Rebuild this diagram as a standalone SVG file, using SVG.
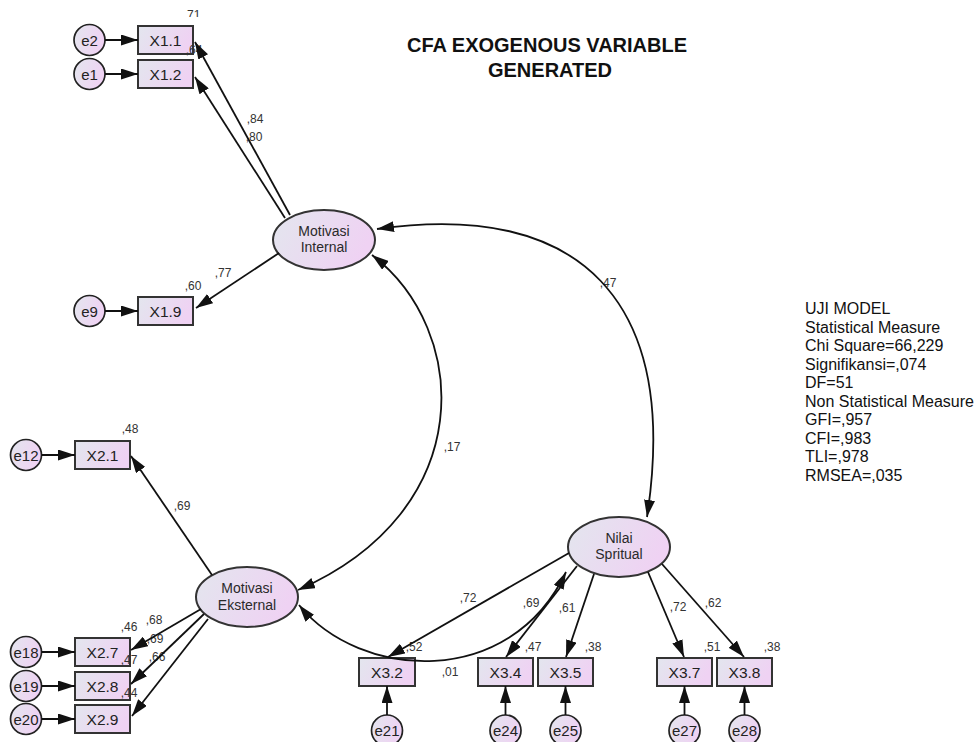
<svg xmlns="http://www.w3.org/2000/svg" width="978" height="742" viewBox="0 0 978 742">
<style>
.n{stroke:#333;stroke-width:2;fill:url(#g)}
.c{stroke:#222;stroke-width:1.7;fill:url(#g)}
.t{font-family:"Liberation Sans",Arial,sans-serif;font-size:15.5px;fill:#222;text-anchor:middle}
.et{font-family:"Liberation Sans",Arial,sans-serif;font-size:15px;fill:#222;text-anchor:middle}
.lt{font-family:"Liberation Sans",Arial,sans-serif;font-size:14px;fill:#2a2a2a;text-anchor:middle}
.l{font-family:"Liberation Sans",Arial,sans-serif;font-size:12px;fill:#333;text-anchor:middle}
.k{stroke:#111;stroke-width:1.8;fill:none;marker-end:url(#ah)}
.d{stroke:#111;stroke-width:1.8;fill:none;marker-end:url(#ah);marker-start:url(#ah)}
.info{font-family:"Liberation Sans",Arial,sans-serif;font-size:16px;fill:#111}
.title{font-family:"Liberation Sans",Arial,sans-serif;font-size:20px;font-weight:bold;fill:#111;text-anchor:middle}
</style>
<defs>
<linearGradient id="g" x1="0" y1="0" x2="1" y2="0.3">
<stop offset="0" stop-color="#e3e6ee"/>
<stop offset="1" stop-color="#efd2f3"/>
</linearGradient>
<marker id="ah" viewBox="0 0 17 11" refX="17" refY="5.5" markerWidth="17" markerHeight="11" markerUnits="userSpaceOnUse" orient="auto-start-reverse">
<path d="M0,0 L17,5.5 L0,11 z" fill="#111"/>
</marker>
<clipPath id="topclip"><rect x="0" y="0" width="978" height="17"/></clipPath>
</defs>
<rect width="978" height="742" fill="#fff"/>

<g id="title">
<text class="title" x="547" y="52">CFA EXOGENOUS VARIABLE</text>
<text class="title" x="550" y="77">GENERATED</text>
</g>

<g id="fit-info" class="info">
<text x="805" y="314">UJI MODEL</text>
<text x="805" y="332.5">Statistical Measure</text>
<text x="805" y="351">Chi Square=66,229</text>
<text x="805" y="369.5">Signifikansi=,074</text>
<text x="805" y="388">DF=51</text>
<text x="805" y="406.5">Non Statistical Measure</text>
<text x="805" y="425">GFI=,957</text>
<text x="805" y="443.5">CFI=,983</text>
<text x="805" y="462">TLI=,978</text>
<text x="805" y="480.5">RMSEA=,035</text>
</g>

<!-- nodes -->
<g id="MI"><ellipse class="n" cx="324" cy="240" rx="51" ry="30"/><text class="lt" x="324" y="236">Motivasi</text><text class="lt" x="324" y="252">Internal</text></g>
<g id="ME"><ellipse class="n" cx="247" cy="597" rx="51" ry="30"/><text class="lt" x="247" y="593">Motivasi</text><text class="lt" x="247" y="610">Eksternal</text></g>
<g id="NS"><ellipse class="n" cx="619" cy="547" rx="51" ry="30"/><text class="lt" x="619" y="543">Nilai</text><text class="lt" x="619" y="559">Spritual</text></g>

<g id="X1.1"><rect class="n" x="138" y="26" width="55" height="28"/><text class="t" x="165.5" y="46">X1.1</text></g>
<g id="X1.2"><rect class="n" x="138" y="60" width="55" height="28"/><text class="t" x="165.5" y="80">X1.2</text></g>
<g id="X1.9"><rect class="n" x="138" y="297" width="55" height="28"/><text class="t" x="165.5" y="317">X1.9</text></g>
<g id="X2.1"><rect class="n" x="75" y="441" width="55" height="28"/><text class="t" x="102.5" y="461">X2.1</text></g>
<g id="X2.7"><rect class="n" x="75" y="638" width="55" height="28"/><text class="t" x="102.5" y="658">X2.7</text></g>
<g id="X2.8"><rect class="n" x="75" y="672" width="55" height="28"/><text class="t" x="102.5" y="692">X2.8</text></g>
<g id="X2.9"><rect class="n" x="75" y="705" width="55" height="28"/><text class="t" x="102.5" y="725">X2.9</text></g>
<g id="X3.2"><rect class="n" x="359" y="658" width="56" height="28"/><text class="t" x="387" y="678">X3.2</text></g>
<g id="X3.4"><rect class="n" x="478" y="658" width="55" height="28"/><text class="t" x="505.5" y="678">X3.4</text></g>
<g id="X3.5"><rect class="n" x="538" y="658" width="55" height="28"/><text class="t" x="565.5" y="678">X3.5</text></g>
<g id="X3.7"><rect class="n" x="657" y="658" width="55" height="28"/><text class="t" x="684.5" y="678">X3.7</text></g>
<g id="X3.8"><rect class="n" x="717" y="658" width="55" height="28"/><text class="t" x="744.5" y="678">X3.8</text></g>

<g id="e2"><circle class="c" cx="89.5" cy="40" r="15.5"/><text class="et" x="89.5" y="45.5">e2</text></g>
<g id="e1"><circle class="c" cx="89.5" cy="74" r="15.5"/><text class="et" x="89.5" y="79.5">e1</text></g>
<g id="e9"><circle class="c" cx="89.5" cy="311" r="15.5"/><text class="et" x="89.5" y="316.5">e9</text></g>
<g id="e12"><circle class="c" cx="26" cy="455" r="15.5"/><text class="et" x="26" y="460.5">e12</text></g>
<g id="e18"><circle class="c" cx="26" cy="652" r="15.5"/><text class="et" x="26" y="657.5">e18</text></g>
<g id="e19"><circle class="c" cx="26" cy="686" r="15.5"/><text class="et" x="26" y="691.5">e19</text></g>
<g id="e20"><circle class="c" cx="26" cy="719" r="15.5"/><text class="et" x="26" y="724.5">e20</text></g>
<g id="e21"><circle class="c" cx="387" cy="730.5" r="15.5"/><text class="et" x="387" y="736">e21</text></g>
<g id="e24"><circle class="c" cx="505.5" cy="730.5" r="15.5"/><text class="et" x="505.5" y="736">e24</text></g>
<g id="e25"><circle class="c" cx="565.5" cy="730.5" r="15.5"/><text class="et" x="565.5" y="736">e25</text></g>
<g id="e27"><circle class="c" cx="684.5" cy="730.5" r="15.5"/><text class="et" x="684.5" y="736">e27</text></g>
<g id="e28"><circle class="c" cx="744.5" cy="730.5" r="15.5"/><text class="et" x="744.5" y="736">e28</text></g>

<!-- labels -->
<g id="labels" class="l">
<text x="192" y="19" clip-path="url(#topclip)">,71</text>
<text x="194" y="54">,64</text>
<text x="255" y="123">,84</text>
<text x="254" y="141">,80</text>
<text x="223" y="277">,77</text>
<text x="193" y="290">,60</text>
<text x="130" y="433">,48</text>
<text x="182" y="510">,69</text>
<text x="129" y="631">,46</text>
<text x="154" y="624">,68</text>
<text x="155" y="643">,69</text>
<text x="129" y="664">,47</text>
<text x="157" y="661">,66</text>
<text x="129" y="697">,44</text>
<text x="468" y="602">,72</text>
<text x="414" y="651">,52</text>
<text x="450" y="676">,01</text>
<text x="531" y="607">,69</text>
<text x="533" y="651">,47</text>
<text x="567" y="612">,61</text>
<text x="593" y="651">,38</text>
<text x="678" y="611">,72</text>
<text x="713" y="607">,62</text>
<text x="712" y="651">,51</text>
<text x="772" y="651">,38</text>
<text x="452" y="451">,17</text>
<text x="608" y="287">,47</text>
</g>

<!-- connectors -->
<g id="connectors">
<line class="k" x1="105" y1="40" x2="138" y2="40"/>
<line class="k" x1="105" y1="74" x2="138" y2="74"/>
<line class="k" x1="105" y1="311" x2="138" y2="311"/>
<line class="k" x1="41.5" y1="455" x2="75" y2="455"/>
<line class="k" x1="41.5" y1="652" x2="75" y2="652"/>
<line class="k" x1="41.5" y1="686" x2="75" y2="686"/>
<line class="k" x1="41.5" y1="719" x2="75" y2="719"/>
<line class="k" x1="387" y1="715" x2="387" y2="686"/>
<line class="k" x1="505.5" y1="715" x2="505.5" y2="686"/>
<line class="k" x1="565.5" y1="715" x2="565.5" y2="686"/>
<line class="k" x1="684.5" y1="715" x2="684.5" y2="686"/>
<line class="k" x1="744.5" y1="715" x2="744.5" y2="686"/>

<line class="k" x1="290" y1="215" x2="195" y2="42"/>
<line class="k" x1="285" y1="218" x2="195" y2="77"/>
<line class="k" x1="279" y1="253" x2="196" y2="308"/>

<line class="k" x1="212" y1="575" x2="131" y2="456"/>
<line class="k" x1="201" y1="609" x2="131" y2="650"/>
<line class="k" x1="204" y1="614" x2="131" y2="684"/>
<line class="k" x1="208" y1="619" x2="132" y2="716"/>

<line class="k" x1="569" y1="553" x2="388" y2="657"/>
<line class="k" x1="577" y1="566" x2="506" y2="657"/>
<line class="k" x1="594" y1="574" x2="566" y2="657"/>
<line class="k" x1="648" y1="572" x2="684" y2="657"/>
<line class="k" x1="662" y1="564" x2="744" y2="657"/>

<path class="d" d="M377,229 C580,200 680,300 647,517"/>
<path class="d" d="M372,255 C470,330 480,510 298,590"/>
<path class="d" d="M299,605 C360,680 510,690 566,572"/>
</g>
</svg>
